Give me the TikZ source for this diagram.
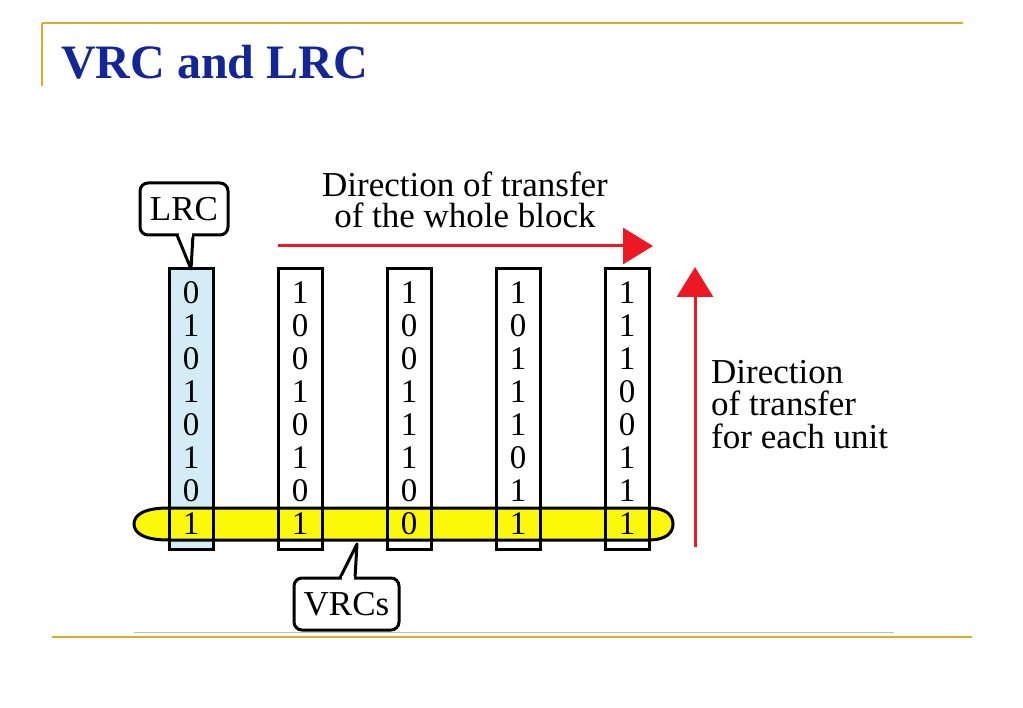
\documentclass[tikz,border=0pt]{standalone}
\usepackage{fontspec}
\setmainfont{Liberation Serif}
\usetikzlibrary{arrows.meta}
\definecolor{gold}{RGB}{222,170,40}
\definecolor{graylinec}{RGB}{190,190,190}
\definecolor{titleblue}{RGB}{20,38,150}
\definecolor{lrcblue}{RGB}{212,236,246}
\definecolor{bandyellow}{RGB}{252,248,10}
\definecolor{arrowred}{RGB}{236,24,36}
\begin{document}
\begin{tikzpicture}[x=1pt,y=-1pt,
  colbox/.style={line width=3pt,minimum width=44pt,minimum height=280pt,inner sep=0pt,outer sep=0pt},
  bit/.style={font=\fontsize{33}{33}\selectfont,inner sep=0pt,anchor=center},
  lbl/.style={inner sep=0pt},
  callout/.style={draw=black,line width=3pt,rounded corners=8pt,fill=white,font=\fontsize{35}{35}\selectfont,inner sep=0pt,outer sep=0pt},
  pointer/.style={draw=black,line width=3pt,line join=round,fill=white},
  redarrow/.style={draw=arrowred,line width=3pt,-{Triangle[width=36pt,length=30pt]}},
  goldline/.style={draw=gold,line width=2.5pt}
]
\useasboundingbox (0,0) rectangle (1023,708);
% frame lines
\coordinate (tl) at (42,23);
\coordinate (tr) at (963,23);
\coordinate (tlb) at (42,86);
\coordinate (bl) at (52,637);
\coordinate (br) at (972,637);
\coordinate (gl) at (134,632);
\coordinate (gr) at (894,632);
\draw[goldline] (tl) -- (tr);
\draw[draw=gold,line width=1.5pt] (tl) -- (tlb);
\draw[goldline] (bl) -- (br);
\draw[draw=graylinec,line width=1pt] (gl) -- (gr);
% title
\node[anchor=base west,inner sep=0pt,font=\fontsize{48}{48}\selectfont\bfseries,text=titleblue] (title) at (61,79) {VRC and LRC};
% columns (fills)
\node[colbox,fill=lrcblue] (c1) at (191,409) {};
\node[colbox,fill=white] (c2) at (300,409) {};
\node[colbox,fill=white] (c3) at (409,409) {};
\node[colbox,fill=white] (c4) at (518,409) {};
\node[colbox,fill=white] (c5) at (627,409) {};
% yellow band
\draw[line width=3pt,fill=bandyellow] (168,508) -- (648,508)
  .. controls (666,508) and (673,515) .. (673,524)
  .. controls (673,533) and (666,540) .. (648,540) -- (168,540)
  .. controls (144,540) and (134,533) .. (134,524)
  .. controls (134,515) and (144,508) .. (168,508) -- cycle;
% column outlines on top
\foreach \c in {c1,c2,c3,c4,c5}{
  \draw[line width=3pt] (\c.north west) rectangle (\c.south east);
}
% bits
\foreach \cx/\bits [count=\i] in {191/{0,1,0,1,0,1,0,1},300/{1,0,0,1,0,1,0,1},409/{1,0,0,1,1,1,0,0},518/{1,0,1,1,1,0,1,1},627/{1,1,1,0,0,1,1,1}}{
  \foreach \b [count=\j] in \bits {
    \node[bit] (b\i-\j) at (\cx,260+33*\j) {\b};
  }
}
% LRC callout
\node[callout,minimum width=88pt,minimum height=52pt] (lrc) at (184,209) {LRC};
\path[pointer] ([xshift=-7pt]lrc.south) -- (c1.north) -- ([xshift=9pt]lrc.south);
\fill[white] ([xshift=-5.5pt,yshift=-2pt]lrc.south) -- ([xshift=7.5pt,yshift=-2pt]lrc.south) -- ([xshift=7.5pt,yshift=3pt]lrc.south) -- ([xshift=-5.5pt,yshift=3pt]lrc.south) -- cycle;
% VRCs callout
\node[callout,minimum width=105pt,minimum height=52pt] (vrc) at (346.5,604) {VRCs};
\coordinate (vtip) at (357,544);
\path[pointer] ([xshift=-6.5pt]vrc.north) -- (vtip) -- ([xshift=8.5pt]vrc.north);
\fill[white] ([xshift=-5pt,yshift=2pt]vrc.north) -- ([xshift=7pt,yshift=2pt]vrc.north) -- ([xshift=7pt,yshift=-3pt]vrc.north) -- ([xshift=-5pt,yshift=-3pt]vrc.north) -- cycle;
% horizontal arrow + label
\coordinate (hs) at (278,246);
\coordinate (he) at (653,246);
\draw[redarrow] (hs) -- (he);
\node[lbl,anchor=south,align=center,font=\fontsize{35}{31}\selectfont] (dir) at (465,228) {Direction of transfer\\of the whole block};
% vertical arrow + label
\coordinate (vs) at (695,547);
\coordinate (ve) at (695,267);
\draw[redarrow] (vs) -- (ve);
\node[lbl,anchor=south west,align=left,font=\fontsize{35}{32.5}\selectfont] (unit) at (711,449) {Direction\\of transfer\\for each unit};
\end{tikzpicture}
\end{document}
